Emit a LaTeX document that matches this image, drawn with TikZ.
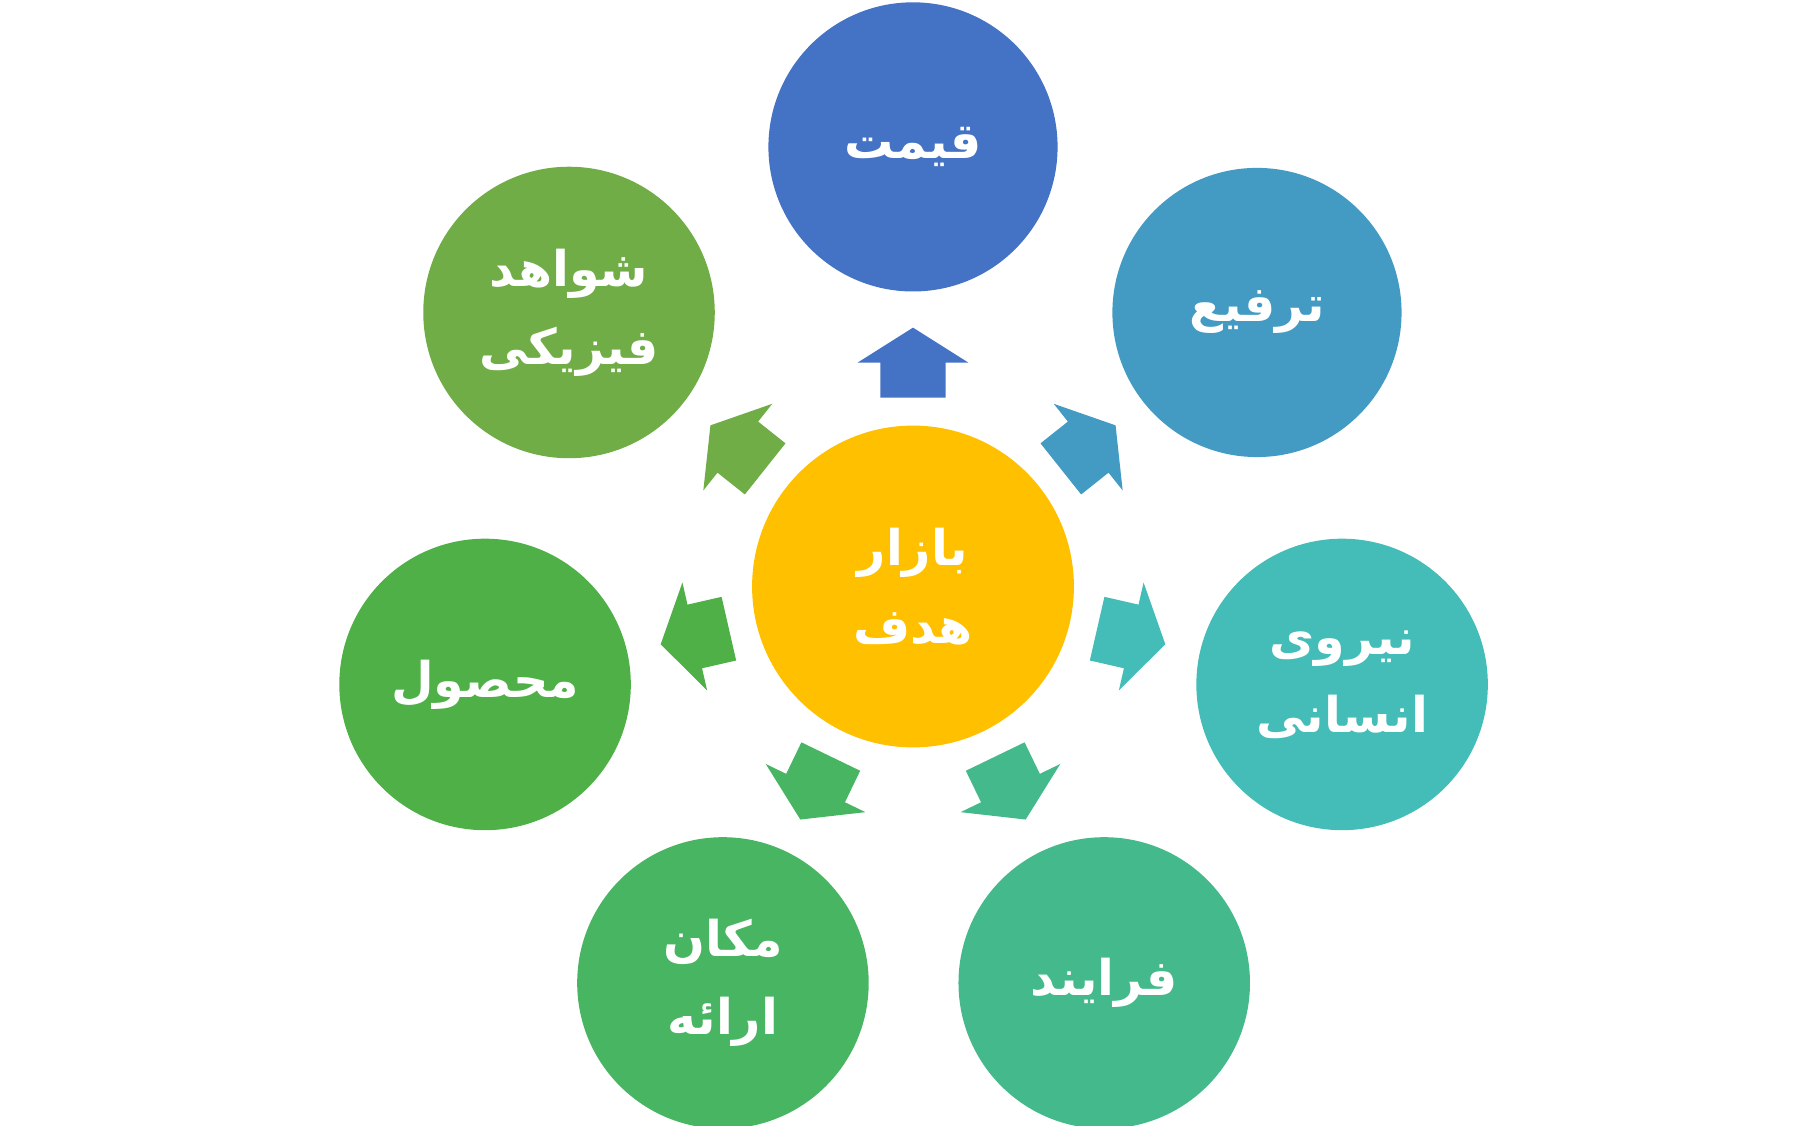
\documentclass[tikz,border=0pt]{standalone}
\usepackage{fontspec}
\newfontfamily\arabicfont[Script=Arabic]{DejaVu Sans}
\TeXXeTstate=1
\begin{document}
\begin{tikzpicture}[x=0.01cm,y=-0.01cm,
  lbl/.style={inner sep=0pt,text=white,align=center,font=\arabicfont\bfseries\fontsize{12}{19}\selectfont}]
\useasboundingbox (0,0) rectangle (1560,965);
\definecolor{cA}{HTML}{4472C4}\definecolor{cB}{HTML}{439BC4}\definecolor{cC}{HTML}{44BDB8}
\definecolor{cD}{HTML}{44BA8C}\definecolor{cE}{HTML}{48B563}\definecolor{cF}{HTML}{4EB047}
\definecolor{cG}{HTML}{70AD47}\definecolor{cH}{HTML}{FFC000}
\fill[cH] (783,503) circle (138);
\fill[cA] (783,126) circle (124);
\fill[cB] (1078,268) circle (124);
\fill[cC] (1151,587) circle (125);
\fill[cD] (947,843) circle (125);
\fill[cE] (620,843) circle (125);
\fill[cF] (416,587) circle (125);
\fill[cG] (488,268) circle (125);
\node[lbl] (c) at (783,503) {\beginR بازار\endR\\\beginR هدف\endR};
\node[lbl] (n1) at (783,126) {\beginR قیمت\endR};
\node[lbl] (n2) at (1078,268) {\beginR ترفیع\endR};
\node[lbl] (n3) at (1151,587) {\beginR نیروی\endR\\\beginR انسانی\endR};
\node[lbl] (n4) at (947,843) {\beginR فرایند\endR};
\node[lbl] (n5) at (620,843) {\beginR مکان\endR\\\beginR ارائه\endR};
\node[lbl] (n6) at (416,587) {\beginR محصول\endR};
\node[lbl] (n7) at (488,268) {\beginR شواهد\endR\\\beginR فیزیکی\endR};
\foreach \a/\col in {90/cA,38.5/cB,-12.9/cC,-64.2/cD,-115.8/cE,-167.1/cF,141.5/cG}{
  \begin{scope}[shift={(783,503)},rotate=\a,shift={(192,0)}]
    \fill[\col] (-30,-28) -- (0,-28) -- (0,-47.5) -- (30,0) -- (0,47.5) -- (0,28) -- (-30,28) -- cycle;
  \end{scope}}
\end{tikzpicture}
\end{document}
